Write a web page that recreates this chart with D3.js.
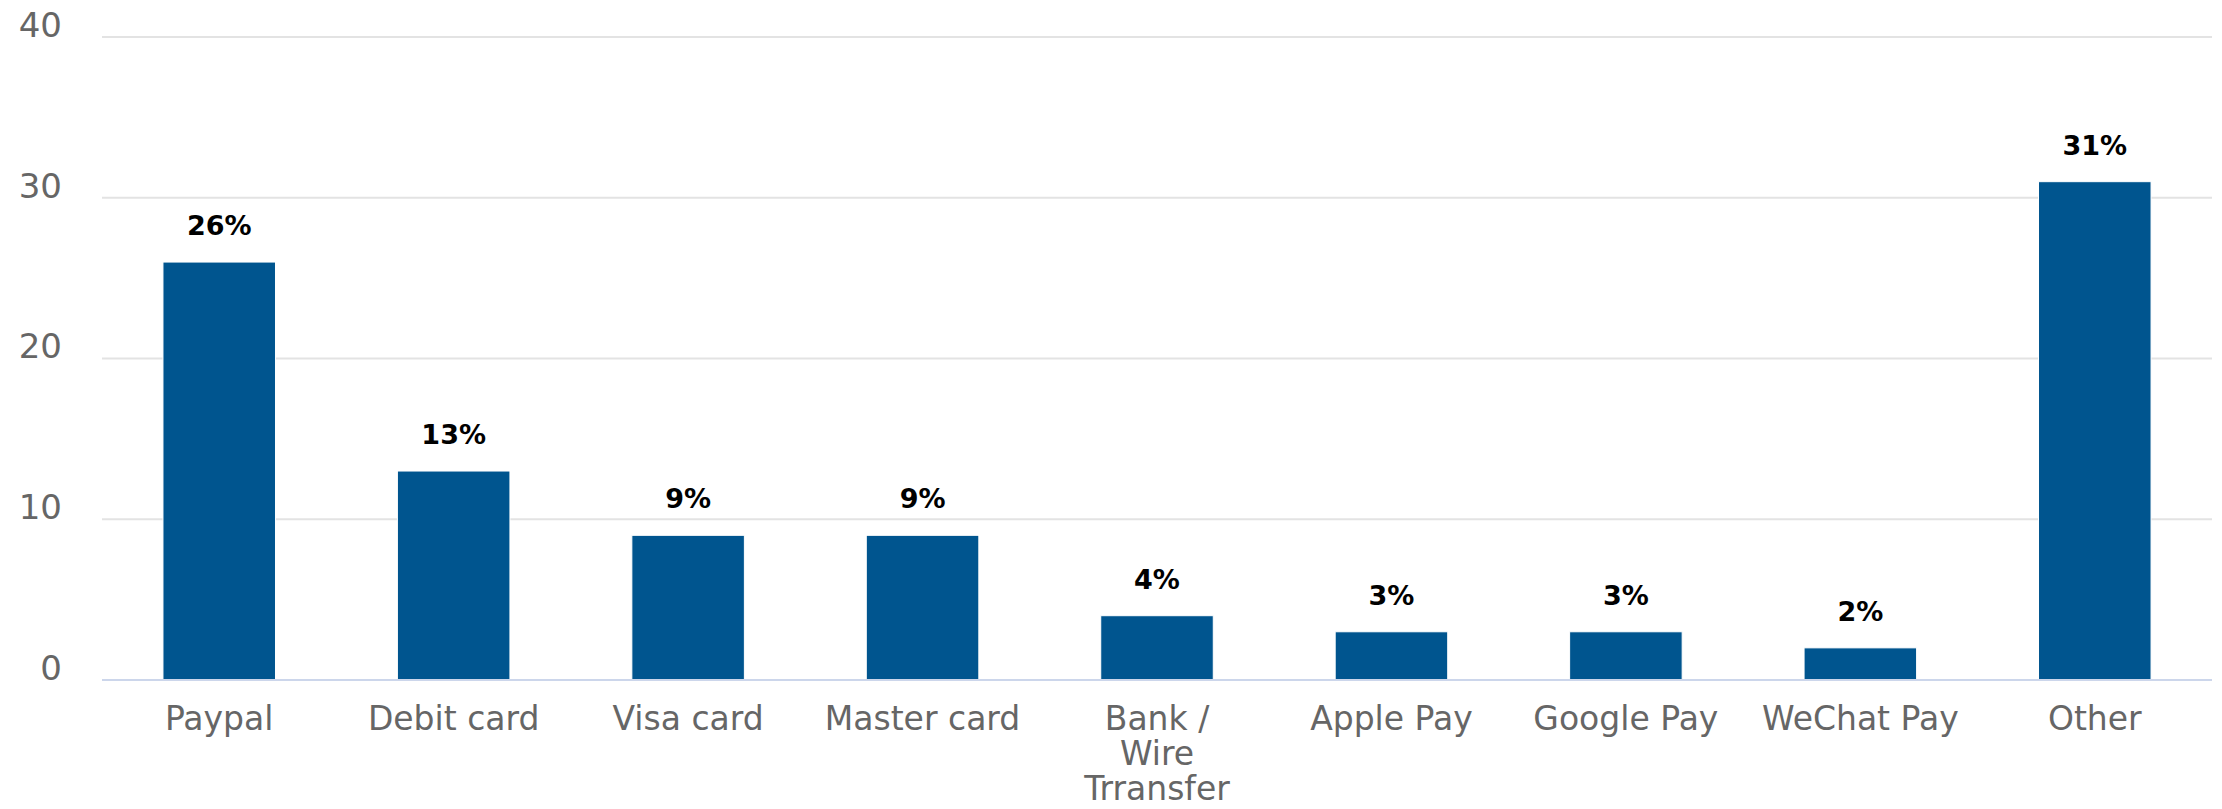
<!DOCTYPE html>
<html>
<head>
<meta charset="utf-8">
<script src="https://cdn.jsdelivr.net/npm/d3@7"></script>
<style>
  html, body { margin: 0; padding: 0; background: #fff; }
  svg { display: block; font-family: "DejaVu Sans", Verdana, sans-serif; }
</style>
</head>
<body>
<div id="chart"></div>
<script>
const categories = ["Paypal", "Debit card", "Visa card", "Master card", "Bank /\nWire\nTrransfer",
    "Apple Pay", "Google Pay", "WeChat Pay", "Other"];
const shares = [26, 13, 9, 9, 4, 3, 3, 2, 31];
const yTicks = [0, 10, 20, 30, 40];

const width = 2222, height = 809;
const margin = { top: 37, right: 10, bottom: 129, left: 102 };
const innerW = width - margin.left - margin.right;
const innerH = height - margin.top - margin.bottom;

const data = categories.map((c, i) => ({ cat: c, value: shares[i] }));

const svg = d3.select("#chart").append("svg").attr("width", width).attr("height", height);
const g = svg.append("g").attr("transform", `translate(${margin.left},${margin.top})`);

const x = d3.scaleBand().domain(categories).range([0, innerW]).paddingInner(0.52).paddingOuter(0.26);
const y = d3.scaleLinear().domain([0, 40]).range([innerH, 0]);

// gridlines
g.append("g").selectAll("line").data(yTicks.filter(t => t > 0)).join("line")
    .attr("x1", 0).attr("x2", innerW)
    .attr("y1", d => y(d)).attr("y2", d => y(d))
    .attr("stroke", "#e3e3e3").attr("stroke-width", 2);

// y labels
const yAxis = d3.axisLeft(y).tickValues(yTicks).tickSize(0).tickPadding(40);
const gy = g.append("g").call(yAxis);
gy.select(".domain").remove();
gy.selectAll("text").attr("font-size", 34).attr("fill", "#666").attr("font-family", "DejaVu Sans")
    .attr("dy", "-0.02em");

// bars
g.append("g").selectAll("rect").data(data).join("rect")
    .attr("x", d => x(d.cat)).attr("width", x.bandwidth())
    .attr("y", d => y(d.value)).attr("height", d => innerH - y(d.value))
    .attr("fill", "#00558f").attr("stroke", "#ffffff").attr("stroke-width", 1);

// data labels
g.append("g").selectAll("text").data(data).join("text")
    .attr("x", d => x(d.cat) + x.bandwidth() / 2)
    .attr("y", d => y(d.value) - 27)
    .attr("text-anchor", "middle").attr("font-size", 27).attr("font-weight", "bold").attr("fill", "#000")
    .text(d => d.value + "%");

// x axis line
g.append("line").attr("x1", 0).attr("x2", innerW).attr("y1", innerH).attr("y2", innerH)
    .attr("stroke", "#ccd6eb").attr("stroke-width", 2);

// x labels
const xl = g.append("g").selectAll("text").data(data).join("text")
    .attr("text-anchor", "middle").attr("font-size", 33).attr("fill", "#666")
    .attr("x", d => x(d.cat) + x.bandwidth() / 2)
    .attr("y", innerH + 50);
xl.selectAll("tspan").data(d => d.cat.split("\n").map(t => ({ t, x: x(d.cat) + x.bandwidth() / 2 }))).join("tspan")
    .attr("x", d => d.x).attr("dy", (d, i) => i ? 35 : 0).text(d => d.t);
</script>
</body>
</html>
